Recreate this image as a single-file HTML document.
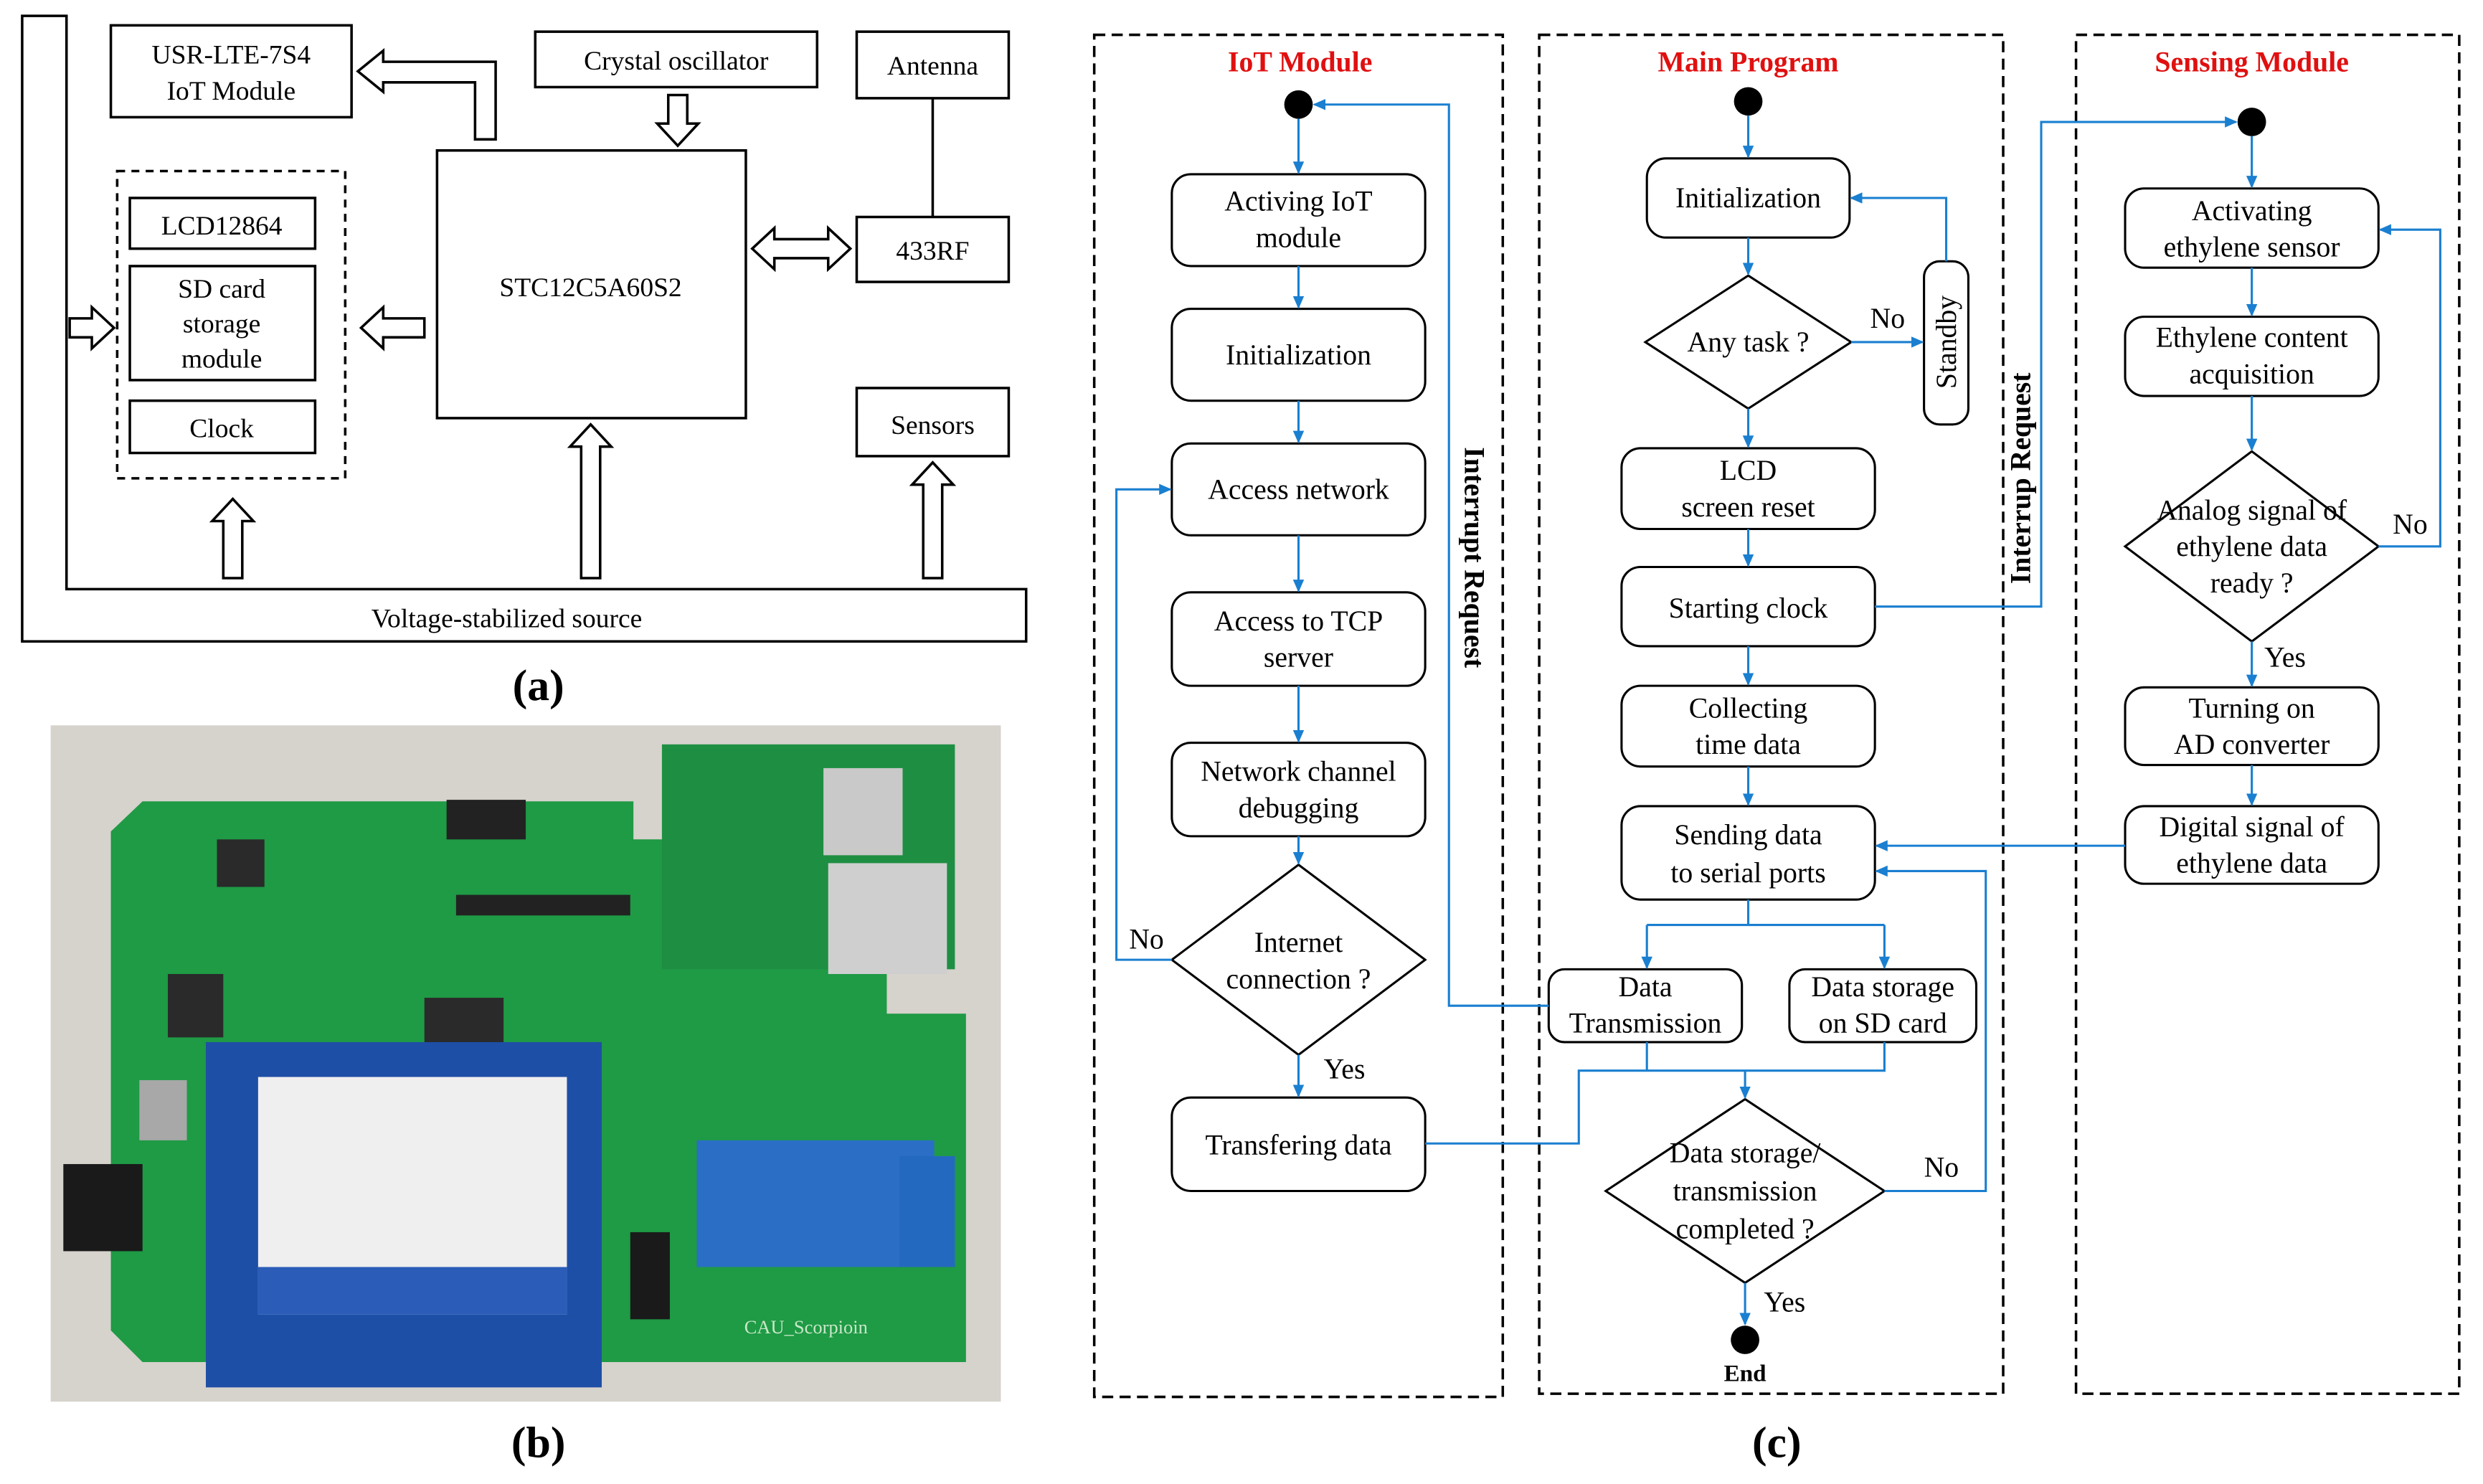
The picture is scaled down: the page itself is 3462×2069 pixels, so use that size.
<!DOCTYPE html>
<html><head><meta charset="utf-8"><style>
html,body{margin:0;padding:0;background:#fff;}
svg{display:block;}
text{font-family:"Liberation Serif",serif;}
</style></head><body>
<svg width="3462" height="2069" viewBox="0 0 1568 937" preserveAspectRatio="none" xmlns="http://www.w3.org/2000/svg">
<defs>
<marker id="ar" markerWidth="8" markerHeight="8" refX="7" refY="4" orient="auto" markerUnits="userSpaceOnUse"><path d="M0,0.5 L8,4 L0,7.5 Z" fill="#1a7fd0"/></marker>
</defs>
<rect width="1568" height="937" fill="#fff"/>
<!-- (a) -->
<g stroke="#000" stroke-width="1.6" fill="none">
<path d="M14,10 L14,405 L648,405 L648,372 L42,372 L42,10 Z" fill="#fff"/>
<rect x="70" y="16" width="152" height="58"/>
<rect x="338" y="20" width="178" height="35"/>
<rect x="541" y="20" width="96" height="42"/>
<line x1="589" y1="62" x2="589" y2="137"/>
<rect x="541" y="137" width="96" height="41"/>
<rect x="276" y="95" width="195" height="169"/>
<rect x="74" y="108" width="144" height="194" stroke-dasharray="5,4"/>
<rect x="82" y="125" width="117" height="32"/>
<rect x="82" y="168" width="117" height="72"/>
<rect x="82" y="253" width="117" height="33"/>
<rect x="541" y="245" width="96" height="43"/>
<polygon points="141,365 141,329 134,329 147,315 160,329 153,329 153,365"/>
<polygon points="367,365 367,282 360,282 373,268 386,282 379,282 379,365"/>
<polygon points="583,365 583,306 576,306 589,292 602,306 595,306 595,365"/>
<polygon points="422,60 422,78 415,78 428,92 441,78 434,78 434,60"/>
<polygon points="268,201 242,201 242,194 228,207 242,220 242,213 268,213"/>
<polygon points="44,201 58,201 58,194 72,207 58,220 58,213 44,213"/>
<polygon points="313,88 313,39 242,39 242,32 226,45 242,58 242,52 300,52 300,88"/>
<polygon points="475,157 489,144 489,151 523,151 523,144 537,157 523,170 523,163 489,163 489,170"/>
</g>
<g font-size="17" text-anchor="middle" fill="#000">
<text x="146" y="40">USR-LTE-7S4</text><text x="146" y="63">IoT Module</text>
<text x="427" y="44">Crystal oscillator</text>
<text x="589" y="47">Antenna</text>
<text x="589" y="164">433RF</text>
<text x="373" y="187">STC12C5A60S2</text>
<text x="140" y="148">LCD12864</text>
<text x="140" y="188">SD card</text><text x="140" y="210">storage</text><text x="140" y="232">module</text>
<text x="140" y="276">Clock</text>
<text x="589" y="274">Sensors</text>
<text x="320" y="396">Voltage-stabilized source</text>
</g>
<g font-size="28" font-weight="bold" text-anchor="middle">
<text x="340" y="442">(a)</text><text x="340" y="920">(b)</text><text x="1122" y="920">(c)</text>
</g>
<!-- (b) photo -->
<rect x="32" y="458" width="600" height="427" fill="#d6d2cc"/>
<path d="M70,525 L90,506 L400,506 L400,530 L560,530 L560,640 L610,640 L610,860 L90,860 L70,840 Z" fill="#1f9a45"/>
<rect x="418" y="470" width="185" height="142" fill="#1e8f42"/>
<rect x="520" y="485" width="50" height="55" fill="#c9c9c9"/>
<rect x="523" y="545" width="75" height="70" fill="#cfcfcf"/>
<rect x="282" y="505" width="50" height="25" fill="#222"/>
<rect x="288" y="565" width="110" height="13" fill="#222"/>
<rect x="137" y="530" width="30" height="30" fill="#2a2a2a"/>
<rect x="106" y="615" width="35" height="40" fill="#2a2a2a"/>
<rect x="268" y="630" width="50" height="30" fill="#2a2a2a"/>
<rect x="130" y="658" width="250" height="218" fill="#1e4fa6"/>
<rect x="163" y="680" width="195" height="150" fill="#efefef"/>
<rect x="163" y="800" width="195" height="30" fill="#2a5cb8"/>
<rect x="40" y="735" width="50" height="55" fill="#1a1a1a"/>
<rect x="88" y="682" width="30" height="38" fill="#a8a8a8"/>
<rect x="440" y="720" width="150" height="80" fill="#2a6fc5"/>
<rect x="568" y="730" width="35" height="70" fill="#2469c0"/>
<rect x="398" y="778" width="25" height="55" fill="#1a1a1a"/>
<text x="470" y="842" font-size="12" fill="#c8e8c8" font-family="Liberation Mono,monospace">CAU_Scorpioin</text>
<!-- (c) frames -->
<g stroke="#000" stroke-width="1.6" fill="none" stroke-dasharray="7,4">
<rect x="691" y="22" width="258" height="860"/>
<rect x="972" y="22" width="293" height="858"/>
<rect x="1311" y="22" width="242" height="858"/>
</g>
<g font-size="18" font-weight="bold" fill="#e01010" text-anchor="middle">
<text x="821" y="45">IoT Module</text><text x="1104" y="45">Main Program</text><text x="1422" y="45">Sensing Module</text>
</g>
<g fill="#000"><circle cx="820" cy="66" r="9"/><circle cx="1104" cy="64" r="9"/><circle cx="1422" cy="77" r="9"/><circle cx="1102" cy="846" r="9"/></g>
<g stroke="#000" stroke-width="1.4" fill="#fff">
<rect x="740" y="110" width="160" height="58" rx="12"/>
<rect x="740" y="195" width="160" height="58" rx="12"/>
<rect x="740" y="280" width="160" height="58" rx="12"/>
<rect x="740" y="374" width="160" height="59" rx="12"/>
<rect x="740" y="469" width="160" height="59" rx="12"/>
<polygon points="820,546 900,606 820,666 740,606"/>
<rect x="740" y="693" width="160" height="59" rx="12"/>
<rect x="1040" y="100" width="128" height="50" rx="12"/>
<polygon points="1104,174 1169,216 1104,258 1039,216"/>
<rect x="1215" y="165" width="28" height="103" rx="10"/>
<rect x="1024" y="283" width="160" height="51" rx="12"/>
<rect x="1024" y="358" width="160" height="50" rx="12"/>
<rect x="1024" y="433" width="160" height="51" rx="12"/>
<rect x="1024" y="509" width="160" height="59" rx="12"/>
<rect x="978" y="612" width="122" height="46" rx="10"/>
<rect x="1130" y="612" width="118" height="46" rx="10"/>
<polygon points="1102,694 1190,752 1102,810 1014,752"/>
<rect x="1342" y="119" width="160" height="50" rx="12"/>
<rect x="1342" y="200" width="160" height="50" rx="12"/>
<polygon points="1422,285 1502,345 1422,405 1342,345"/>
<rect x="1342" y="434" width="160" height="49" rx="12"/>
<rect x="1342" y="509" width="160" height="49" rx="12"/>
</g>
<g stroke="#1a7fd0" stroke-width="1.4" fill="none" marker-end="url(#ar)">
<line x1="820" y1="75" x2="820" y2="109"/>
<line x1="820" y1="168" x2="820" y2="194"/>
<line x1="820" y1="253" x2="820" y2="279"/>
<line x1="820" y1="338" x2="820" y2="373"/>
<line x1="820" y1="433" x2="820" y2="468"/>
<line x1="820" y1="528" x2="820" y2="545"/>
<line x1="820" y1="666" x2="820" y2="692"/>
<polyline points="740,606 705,606 705,309 739,309"/>
<polyline points="978,635 915,635 915,66 830,66"/>
<line x1="1104" y1="73" x2="1104" y2="99"/>
<line x1="1104" y1="150" x2="1104" y2="173"/>
<line x1="1169" y1="216" x2="1214" y2="216"/>
<polyline points="1229,165 1229,125 1169,125"/>
<line x1="1104" y1="258" x2="1104" y2="282"/>
<line x1="1104" y1="334" x2="1104" y2="357"/>
<line x1="1104" y1="408" x2="1104" y2="432"/>
<line x1="1104" y1="484" x2="1104" y2="508"/>
<polyline points="1040,584 1040,611"/>
<polyline points="1190,584 1190,611"/>
<line x1="1102" y1="676" x2="1102" y2="693"/>
<polyline points="1190,752 1254,752 1254,550 1185,550"/>
<line x1="1102" y1="810" x2="1102" y2="836"/>
<polyline points="1184,383 1289,383 1289,77 1412,77"/>
<line x1="1422" y1="86" x2="1422" y2="118"/>
<line x1="1422" y1="169" x2="1422" y2="199"/>
<line x1="1422" y1="250" x2="1422" y2="284"/>
<polyline points="1502,345 1541,345 1541,145 1503,145"/>
<line x1="1422" y1="405" x2="1422" y2="433"/>
<line x1="1422" y1="483" x2="1422" y2="508"/>
<line x1="1342" y1="534" x2="1185" y2="534"/>
</g>
<g stroke="#1a7fd0" stroke-width="1.4" fill="none">
<polyline points="1104,568 1104,584 1040,584 1190,584"/>
<polyline points="900,722 997,722 997,676 1190,676 1190,658"/>
<line x1="1040" y1="658" x2="1040" y2="676"/>
</g>
<g font-size="18" text-anchor="middle" fill="#000">
<text x="820" y="133">Activing IoT</text><text x="820" y="156">module</text>
<text x="820" y="230">Initialization</text>
<text x="820" y="315">Access network</text>
<text x="820" y="398">Access to TCP</text><text x="820" y="421">server</text>
<text x="820" y="493">Network channel</text><text x="820" y="516">debugging</text>
<text x="820" y="601">Internet</text><text x="820" y="624">connection ?</text>
<text x="820" y="729">Transfering data</text>
<text x="724" y="599">No</text><text x="849" y="681">Yes</text>
<text x="1104" y="131">Initialization</text>
<text x="1104" y="222">Any task ?</text>
<text x="1192" y="207">No</text>
<text x="1104" y="303">LCD</text><text x="1104" y="326">screen reset</text>
<text x="1104" y="390">Starting clock</text>
<text x="1104" y="453">Collecting</text><text x="1104" y="476">time data</text>
<text x="1104" y="533">Sending data</text><text x="1104" y="557">to serial ports</text>
<text x="1039" y="629">Data</text><text x="1039" y="652">Transmission</text>
<text x="1189" y="629">Data storage</text><text x="1189" y="652">on SD card</text>
<text x="1102" y="734">Data storage/</text><text x="1102" y="758">transmission</text><text x="1102" y="782">completed ?</text>
<text x="1226" y="743">No</text><text x="1127" y="828">Yes</text>
<text x="1422" y="139">Activating</text><text x="1422" y="162">ethylene sensor</text>
<text x="1422" y="219">Ethylene content</text><text x="1422" y="242">acquisition</text>
<text x="1422" y="328">Analog signal of</text><text x="1422" y="351">ethylene data</text><text x="1422" y="374">ready ?</text>
<text x="1522" y="337">No</text><text x="1443" y="421">Yes</text>
<text x="1422" y="453">Turning on</text><text x="1422" y="476">AD converter</text>
<text x="1422" y="528">Digital signal of</text><text x="1422" y="551">ethylene data</text>
<text x="1229" y="216" transform="rotate(-90 1229 216)" dy="6">Standby</text>
</g>
<text x="1102" y="872" font-size="15" font-weight="bold" text-anchor="middle">End</text>
<text x="925" y="352" font-size="18" font-weight="bold" text-anchor="middle" transform="rotate(90 925 352)">Interrupt Request</text>
<text x="1282" y="302" font-size="18" font-weight="bold" text-anchor="middle" transform="rotate(-90 1282 302)">Interrup Request</text>
</svg>
</body></html>
